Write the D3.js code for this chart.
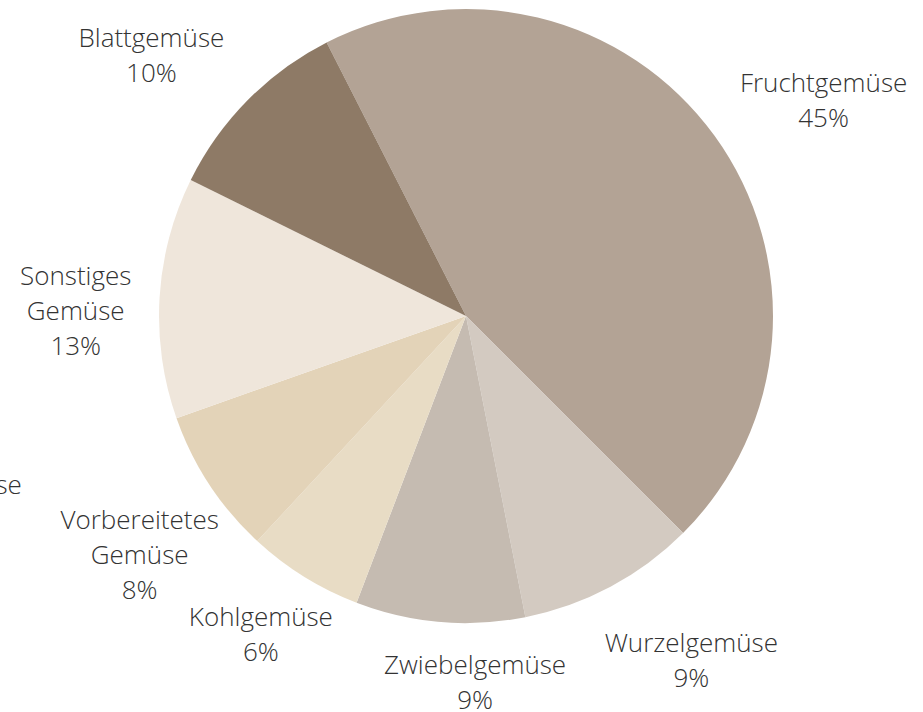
<!DOCTYPE html>
<html>
<head>
<meta charset="utf-8">
<script src="https://cdn.jsdelivr.net/npm/d3@7"></script>
<style>
body { margin:0; background:#fff; }
svg text { font-family: "Open Sans", "DejaVu Sans", sans-serif; font-weight:300; fill:#333; }
</style>
</head>
<body>
<svg id="container" width=923 height=712></svg>

<script>

// ===== GEMUESE PIE =====
// slices go clockwise, starting just left of 12 o'clock

var categories = ['Fruchtgemüse', 'Wurzelgemüse', 'Zwiebelgemüse', 'Kohlgemüse', 'Vorbereitetes Gemüse', 'Hülsengemüse', 'Sonstiges Gemüse', 'Blattgemüse']
var shares = [45.0, 9.4, 8.9, 6.1, 7.7, 0, 12.7, 10.2] // percent
var colors = ['#b3a395', '#d3cac1', '#c5bbb1', '#e8dcc5', '#e3d3b8', '#ddd0bd', '#efe6db', '#8e7a66']

// how each label is split into lines
var labelLines = {
	'Vorbereitetes Gemüse': ['Vorbereitetes', 'Gemüse'],
	'Sonstiges Gemüse': ['Sonstiges', 'Gemüse']
}
// small shifts off the label ring so labels sit like in the original
var labelNudge = {
	'Fruchtgemüse': [34, 29],
	'Wurzelgemüse': [37, 1],
	'Zwiebelgemüse': [43, -23],
	'Kohlgemüse': [6, -12],
	'Vorbereitetes Gemüse': [8, 28],
	'Hülsengemüse': [-154, 45],
	'Sonstiges Gemüse': [9, 28],
	'Blattgemüse': [-30, 30]
}

var cx = 466, cy = 316
var radius = 307
var lineHeight = 35
var startDeg = -27

var data = categories.map(function(c, i) {
	return {name: c, value: shares[i], color: colors[i]}
})

var pie = d3.pie()
	.sort(null)
	.value(function(d) { return d.value })
	.startAngle(startDeg * Math.PI / 180)
	.endAngle((startDeg + 360) * Math.PI / 180)

var arc = d3.arc().innerRadius(0).outerRadius(radius)
var labelArc = d3.arc().innerRadius(400).outerRadius(400)

var g = d3.select("svg").append("g")
	.attr("transform", "translate(" + cx + "," + cy + ")")

var arcs = pie(data)

g.selectAll("path")
	.data(arcs.filter(function(d) { return d.data.value > 0 }))
	.enter()
	.append("path")
	.attr("d", arc)
	.attr("fill", function(d) { return d.data.color })

// labels: name lines + rounded percent (empty slice only shows its name, it runs off the left edge)
var labels = g.selectAll("text.lbl")
	.data(arcs)
	.enter()
	.append("text")
	.attr("class", "lbl")
	.attr("text-anchor", "middle")
	.style("font-size", "26px")
	.attr("transform", function(d) {
		var p = labelArc.centroid(d)
		var n = labelNudge[d.data.name] || [0, 0]
		return "translate(" + (p[0] + n[0]) + "," + (p[1] + n[1]) + ")"
	})

labels.each(function(d) {
	var lines = (labelLines[d.data.name] || [d.data.name])
	if (d.data.value > 0) lines = lines.concat([Math.round(d.data.value) + '%'])
	var top = -(lines.length - 1) / 2 * lineHeight
	d3.select(this).selectAll("tspan")
		.data(lines)
		.enter()
		.append("tspan")
		.attr("x", 0)
		.attr("y", function(l, i) { return top + i * lineHeight })
		.text(function(l) { return l })
})

</script>
</body>
</html>
